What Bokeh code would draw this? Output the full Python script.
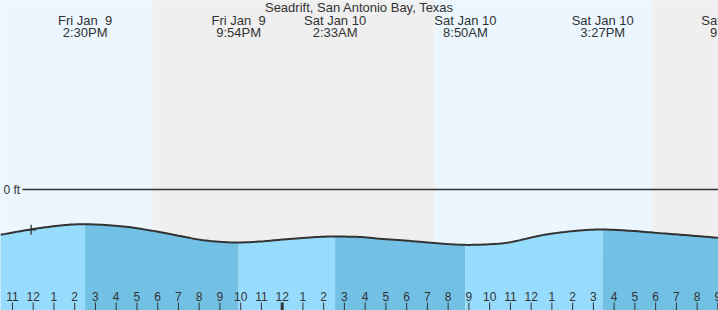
import numpy as np
from bokeh.plotting import figure
from bokeh.models import Range1d
from bokeh.core.properties import value
from bokeh.embed import file_html
from bokeh.resources import INLINE

# ---- data (hours counted from Fri Jan 9 00:00) ----
tide_hours = [10.42, 11.87, 13.32, 14.5, 16.21, 17.65, 19.10, 20.06, 21.02, 21.9,
              22.95, 23.92, 24.88, 25.85, 26.55, 27.77, 28.74, 29.70, 30.66, 31.63,
              32.83, 34.04, 35.0, 36.45, 37.41, 38.38, 39.45, 40.78, 42.24, 43.68, 45.03]
tide_ft = [-0.283, -0.250, -0.225, -0.217, -0.229, -0.256, -0.291, -0.314, -0.327, -0.331,
           -0.325, -0.314, -0.304, -0.296, -0.294, -0.297, -0.308, -0.317, -0.327, -0.3375,
           -0.346, -0.342, -0.329, -0.2875, -0.269, -0.256, -0.25, -0.258, -0.273, -0.2875, -0.302]

extreme_hours = [14.5, 21.9, 26.55, 32.833, 39.45, 45.7]
extreme_day = ["Fri Jan \u00a09", "Fri Jan \u00a09", "Sat Jan 10", "Sat Jan 10", "Sat Jan 10", "Sat Jan 10"]
extreme_time = ["2:30PM", "9:54PM", "2:33AM", "8:50AM", "3:27PM", "9:42PM"]
extreme_kind = ["high", "low", "high", "low", "high", "low"]

sunset_sunrise = [17.76, 31.34, 41.85]   # sunset, sunrise, sunset
tick_hours = list(range(11, 46))
tick_labels = [str((h - 1) % 12 + 1) for h in tick_hours]
midnight = [24]
now_hour = [11.9]
now_ft = [-0.252]

title = "Seadrift, San Antonio Bay, Texas"

# ---- layout constants ----
W, H = 718, 310
X0, X1 = 10.424, 45.03
PX_PER_FT = 160.0
ZERO_PX = 189.0
def ft_at(py):
    return (ZERO_PX - py) / PX_PER_FT
Y0, Y1 = ft_at(H), ft_at(0)
FONT = value("Liberation Sans")
INK = "#333333"

# smooth rendering path through the read points (Catmull-Rom)
def smooth(xs, ys, n=12):
    xs = np.asarray(xs, float); ys = np.asarray(ys, float)
    px = np.concatenate([[2 * xs[0] - xs[1]], xs, [2 * xs[-1] - xs[-2]]])
    py = np.concatenate([[2 * ys[0] - ys[1]], ys, [2 * ys[-1] - ys[-2]]])
    ox, oy = [], []
    for i in range(1, len(px) - 2):
        t = np.linspace(0, 1, n, endpoint=False)
        for arr, out in ((px, ox), (py, oy)):
            p0, p1, p2, p3 = arr[i - 1], arr[i], arr[i + 1], arr[i + 2]
            out.extend(0.5 * (2 * p1 + (-p0 + p2) * t + (2 * p0 - 5 * p1 + 4 * p2 - p3) * t ** 2
                              + (-p0 + 3 * p1 - 3 * p2 + p3) * t ** 3))
    ox.append(xs[-1]); oy.append(ys[-1])
    return np.array(ox), np.array(oy)

cx, cy = smooth(tide_hours, tide_ft)

p = figure(width=W, height=H, output_backend="svg", toolbar_location=None,
           x_range=Range1d(X0, X1), y_range=Range1d(Y0, Y1),
           min_border=0, min_border_left=0, min_border_right=0,
           min_border_top=0, min_border_bottom=0)
p.axis.visible = False
p.grid.visible = False
p.outline_line_color = None
p.background_fill_color = "#ebf6fe"
p.border_fill_color = "#ffffff"

DAY = "#ebf6fe"
NIGHT = "#efefef"
p.quad(left=[X0 - 1, sunset_sunrise[1]], right=[sunset_sunrise[0], sunset_sunrise[2]],
       bottom=Y0 - 1, top=Y1 + 1, fill_color=DAY, line_color=None)
p.quad(left=[sunset_sunrise[0], sunset_sunrise[2]], right=[sunset_sunrise[1], X1 + 1],
       bottom=Y0 - 1, top=Y1 + 1, fill_color=NIGHT, line_color=None)

# zero line
p.segment(x0=[X0 + (22 / W) * (X1 - X0)], x1=[X1 + 1], y0=[0], y1=[0],
          line_color=INK, line_width=1.3)
p.text(x=[X0 + (3 / W) * (X1 - X0)], y=[0], text=["0 ft"], text_font=FONT,
       text_font_size="12px", text_color=INK, text_baseline="middle", text_align="left")

# tide fill split at extremes
bounds = [X0 - 1] + [e for e in extreme_hours if X0 < e < X1] + [X1 + 1]
LIGHT = "#97dcfc"
DARK = "#72c1e5"
first_rising = extreme_kind[0] == "high"
for i in range(len(bounds) - 1):
    a, b = bounds[i], bounds[i + 1]
    mask = (cx > a) & (cx < b)
    xs = np.concatenate([[a], cx[mask], [b]])
    ys = np.interp(xs, cx, cy)
    rising = (i % 2 == 0) == first_rising
    p.varea(x=xs, y1=np.full(len(xs), Y0 - 1), y2=ys,
            fill_color=LIGHT if rising else DARK)

# tide curve
p.line(x=cx, y=cy, line_color=INK, line_width=2)

# current-time cross
p.scatter(x=now_hour, y=now_ft, marker="cross", size=10, line_color=INK, line_width=1.3)

# hour ticks
tick_top, tick_bot = ft_at(302), ft_at(H + 2)
p.segment(x0=tick_hours, x1=tick_hours, y0=tick_top, y1=tick_bot,
          line_color=INK, line_width=1)
p.segment(x0=midnight, x1=midnight, y0=tick_top, y1=tick_bot,
          line_color=INK, line_width=3)
p.text(x=tick_hours, y=ft_at(296), text=tick_labels, text_font=FONT,
       text_font_size="12px", text_color=INK, text_align="center", text_baseline="middle")

# labels at top
p.text(x=[(X0 + X1) / 2], y=[ft_at(7)], text=[title], text_font=FONT,
       text_font_size="13px", text_color=INK, text_align="center", text_baseline="middle")
p.text(x=extreme_hours, y=ft_at(19.5), text=extreme_day, text_font=FONT,
       text_font_size="13px", text_color=INK, text_align="center", text_baseline="middle")
p.text(x=extreme_hours, y=ft_at(32), text=extreme_time, text_font=FONT,
       text_font_size="13px", text_color=INK, text_align="center", text_baseline="middle")

open("out.html", "w").write(file_html(p, INLINE))
